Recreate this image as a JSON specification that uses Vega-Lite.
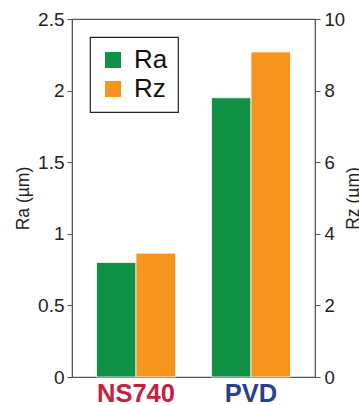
{
  "$schema": "https://vega.github.io/schema/vega-lite/v6.json",
  "width": 243,
  "height": 358,
  "autosize": {"type": "none"},
  "padding": {"left": 72, "top": 19, "right": 44, "bottom": 28},
  "background": "white",
  "config": {
    "font": "Liberation Sans",
    "view": {"stroke": "#555555", "strokeWidth": 1.2},
    "axis": {"domainColor": "#555555", "tickColor": "#555555", "labelColor": "#222222", "titleColor": "#222222", "labelFont": "Liberation Sans", "titleFont": "Liberation Sans", "grid": false},
    "legend": {"strokeColor": "#222222", "strokeWidth": 1.2, "fillColor": "white"}
  },
  "data": {
    "values": [
      {"material": "NS740", "measure": "Ra", "value": 0.8},
      {"material": "NS740", "measure": "Rz", "value": 3.46},
      {"material": "PVD", "measure": "Ra", "value": 1.95},
      {"material": "PVD", "measure": "Rz", "value": 9.08}
    ]
  },
  "encoding": {
    "x": {
      "field": "material",
      "type": "nominal",
      "sort": ["NS740", "PVD"],
      "scale": {"paddingInner": 0.313, "paddingOuter": 0.213},
      "axis": {
        "title": null,
        "ticks": false,
        "domain": false,
        "labelAngle": 0,
        "labelFontSize": 25.5,
        "labelFontWeight": "bold",
        "labelPadding": 4,
        "labelColor": {"expr": "datum.value == 'NS740' ? '#c8203f' : '#2b3f8e'"}
      }
    },
    "xOffset": {"field": "measure", "type": "nominal", "scale": {"domain": ["Ra", "Rz"], "paddingInner": 0, "paddingOuter": 0}},
    "color": {
      "field": "measure",
      "type": "nominal",
      "scale": {"domain": ["Ra", "Rz"], "range": ["#0f9146", "#f7941d"]},
      "legend": {
        "title": null,
        "orient": "none",
        "legendX": 18,
        "legendY": 18,
        "padding": 10,
        "symbolType": "square",
        "symbolSize": 256,
        "symbolStrokeWidth": 0,
        "symbolOpacity": 1,
        "labelFontSize": 26,
        "labelColor": "#111111",
        "labelOffset": 8,
        "rowPadding": 3
      }
    }
  },
  "layer": [
    {
      "transform": [{"filter": "datum.measure == 'Ra'"}],
      "mark": {"type": "bar", "stroke": "white", "strokeWidth": 0.8},
      "encoding": {
        "y": {
          "field": "value",
          "type": "quantitative",
          "scale": {"domain": [0, 2.5], "nice": false},
          "axis": {
            "orient": "left",
            "values": [0, 0.5, 1, 1.5, 2, 2.5],
            "format": "~g",
            "title": "Ra (µm)",
            "titleFontSize": 17.5,
            "titleFontWeight": "normal",
            "titlePadding": 5,
            "labelFontSize": 19,
            "tickSize": 5,
            "labelPadding": 3
          }
        }
      }
    },
    {
      "transform": [{"filter": "datum.measure == 'Rz'"}],
      "mark": {"type": "bar", "stroke": "white", "strokeWidth": 0.8},
      "encoding": {
        "y": {
          "field": "value",
          "type": "quantitative",
          "scale": {"domain": [0, 10], "nice": false},
          "axis": {
            "orient": "right",
            "values": [0, 2, 4, 6, 8, 10],
            "title": "Rz (µm)",
            "titleAngle": 270,
            "titleBaseline": "top",
            "titleFontSize": 17.5,
            "titleFontWeight": "normal",
            "titlePadding": 0,
            "labelFontSize": 18.5,
            "tickSize": 5,
            "labelPadding": 4
          }
        }
      }
    }
  ],
  "resolve": {"scale": {"y": "independent"}}
}
